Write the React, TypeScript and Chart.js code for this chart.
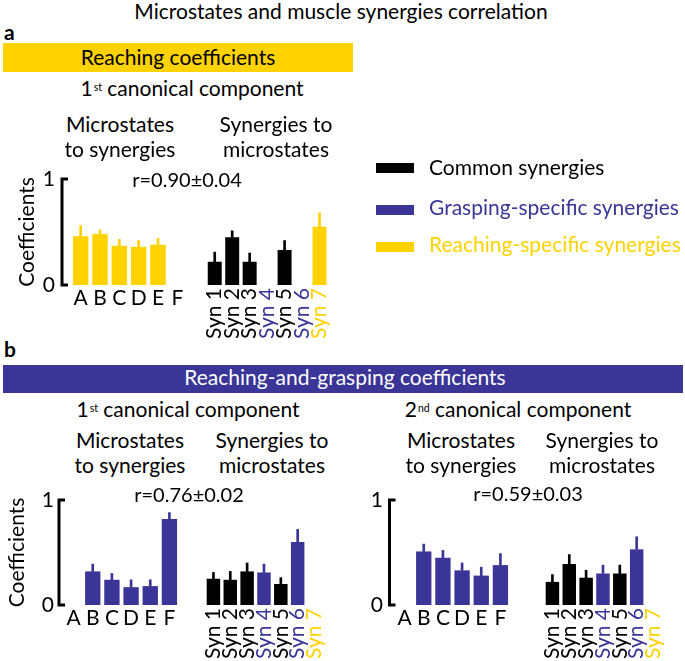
import React, { useEffect, useRef } from 'react';
import { Chart, registerables } from 'chart.js';

Chart.register(...registerables);

const FONT = 'Lato, "Open Sans", sans-serif';
const YELLOW = '#FFD200';
const BLUE = '#3A3597';
const BLACK = '#000000';
const FS = 21;

// ---- categories ----
const microstates = ['A', 'B', 'C', 'D', 'E', 'F'];
const synergies = ['Syn 1', 'Syn 2', 'Syn 3', 'Syn 4', 'Syn 5', 'Syn 6', 'Syn 7'];
const synergyGroup = ['common', 'common', 'common', 'grasping', 'common', 'grasping', 'reaching'];
const groupColor: Record<string, string> = { common: BLACK, grasping: BLUE, reaching: YELLOW };

// ---- panel a: reaching coefficients, 1st canonical component ----
const reachMicroValues = [0.46, 0.48, 0.37, 0.36, 0.38, null];
const reachMicroSd = [0.10, 0.04, 0.06, 0.06, 0.06, null];
const reachSynValues = [0.22, 0.45, 0.22, null, 0.33, null, 0.55];
const reachSynSd = [0.09, 0.06, 0.08, null, 0.09, null, 0.13];
const reachR = 'r=0.90±0.04';

// ---- panel b: reaching-and-grasping, 1st canonical component ----
const rg1MicroValues = [null, 0.32, 0.24, 0.17, 0.18, 0.82];
const rg1MicroSd = [null, 0.07, 0.06, 0.07, 0.06, 0.06];
const rg1SynValues = [0.25, 0.24, 0.32, 0.31, 0.20, 0.60, null];
const rg1SynSd = [0.06, 0.08, 0.08, 0.08, 0.06, 0.12, null];
const rg1R = 'r=0.76±0.02';

// ---- panel b: reaching-and-grasping, 2nd canonical component ----
const rg2MicroValues = [null, 0.51, 0.45, 0.33, 0.28, 0.38];
const rg2MicroSd = [null, 0.07, 0.07, 0.07, 0.08, 0.11];
const rg2SynValues = [0.22, 0.39, 0.26, 0.30, 0.30, 0.53, null];
const rg2SynSd = [0.07, 0.09, 0.07, 0.08, 0.08, 0.12, null];
const rg2R = 'r=0.59±0.03';

const yTicks = [0, 1];
const yTitleText = 'Coefficients';

const synColors = synergyGroup.map((g) => groupColor[g]);

const bracketPlugin = {
  id: 'bracket',
  afterDatasetsDraw(chart: any, _args: any, opts: any) {
    if (!opts || !opts.show) return;
    const y = chart.scales.y;
    const x = chart.chartArea.left - opts.gap;
    const top = y.getPixelForValue(yTicks[1]);
    const bottom = y.getPixelForValue(yTicks[0]);
    const ctx = chart.ctx;
    ctx.save();
    ctx.strokeStyle = BLACK;
    ctx.lineWidth = 3;
    ctx.beginPath();
    ctx.moveTo(x + 6, top);
    ctx.lineTo(x, top);
    ctx.lineTo(x, bottom);
    ctx.lineTo(x + 6, bottom);
    ctx.stroke();
    ctx.restore();
  },
};

type Spec = {
  left: number; w: number; areaTop: number; areaH: number;
  labels: string[]; values: (number | null)[]; sd: (number | null)[];
  barColors: string[]; labelColors: string[];
  axis: boolean; yWidth: number; padLeft: number; gap: number; tickPad: number;
  yTitle: boolean; titlePad: number; xHeight: number; xPad: number; rot: number;
};

function padTopOf(s: Spec) {
  return s.axis ? 13 + s.tickPad : 12;
}

function buildConfig(s: Spec): any {
  const errData = s.values.map((v, i) => (v == null ? null : [v, v + (s.sd[i] as number)]));
  return {
    type: 'bar',
    data: {
      labels: s.labels,
      datasets: [
        { data: s.values, backgroundColor: s.barColors, borderWidth: 0, grouped: false, categoryPercentage: 1, barPercentage: 0.8 },
        { data: errData, backgroundColor: s.barColors, borderWidth: 0, grouped: false, barThickness: 2 },
      ],
    },
    options: {
      animation: false,
      responsive: false,
      devicePixelRatio: 1,
      layout: { padding: { top: padTopOf(s), left: s.padLeft, right: 4, bottom: 0 } },
      plugins: {
        legend: { display: false },
        tooltip: { enabled: false },
        bracket: { show: s.axis, gap: s.gap },
      },
      scales: {
        x: {
          type: 'category',
          offset: true,
          grid: { display: false, drawTicks: false },
          border: { display: false },
          afterFit: (sc: any) => { sc.height = s.xHeight; },
          ticks: {
            autoSkip: false,
            minRotation: s.rot,
            maxRotation: s.rot,
            padding: s.xPad,
            color: (c: any) => s.labelColors[c.index],
            font: { family: FONT, size: FS },
          },
        },
        y: {
          min: yTicks[0],
          max: yTicks[1],
          display: s.axis,
          grid: { display: false, drawTicks: false },
          border: { display: false },
          afterFit: (sc: any) => { if (s.axis) sc.width = s.yWidth; },
          ticks: { stepSize: 1, padding: s.tickPad, color: BLACK, font: { family: FONT, size: FS } },
          title: {
            display: s.yTitle,
            text: yTitleText,
            color: BLACK,
            font: { family: FONT, size: FS },
            padding: { top: s.titlePad, bottom: 0 },
          },
        },
      },
    },
    plugins: [bracketPlugin],
  };
}

function BarChart({ spec }: { spec: Spec }) {
  const ref = useRef<HTMLCanvasElement>(null);
  const pt = padTopOf(spec);
  const h = pt + spec.areaH + spec.xHeight;
  useEffect(() => {
    const chart = new Chart(ref.current as HTMLCanvasElement, buildConfig(spec));
    return () => chart.destroy();
  }, []);
  return (
    <canvas
      ref={ref}
      width={spec.w}
      height={h}
      style={{ position: 'absolute', left: spec.left, top: spec.areaTop - pt, width: spec.w, height: h }}
    />
  );
}

function Txt({ x, base, size = FS, color = BLACK, bold = false, align = 'center', children }: any) {
  return (
    <div
      style={{
        position: 'absolute',
        left: x,
        top: base - 0.887 * size,
        fontSize: size,
        lineHeight: `${size}px`,
        whiteSpace: 'nowrap',
        color,
        fontWeight: bold ? 700 : 400,
        fontFamily: FONT,
        transform: align === 'center' ? 'translateX(-50%)' : undefined,
      }}
    >
      {children}
    </div>
  );
}

function Sup({ children }: any) {
  return <span style={{ fontSize: '0.5em', position: 'relative', top: '-0.55em', marginLeft: 1 }}>{children}</span>;
}

const microYellow = microstates.map(() => YELLOW);
const microBlue = microstates.map(() => BLUE);
const microLabelColors = microstates.map(() => BLACK);

const specs: Spec[] = [
  { left: 0, w: 191, areaTop: 179, areaH: 106, labels: microstates, values: reachMicroValues, sd: reachMicroSd,
    barColors: microYellow, labelColors: microLabelColors, axis: true, yWidth: 71, padLeft: 0, gap: 9, tickPad: 16,
    yTitle: true, titlePad: 15, xHeight: 32, xPad: 1, rot: 0 },
  { left: 196, w: 152, areaTop: 179, areaH: 106, labels: synergies, values: reachSynValues, sd: reachSynSd,
    barColors: synColors, labelColors: synColors, axis: false, yWidth: 0, padLeft: 10, gap: 0, tickPad: 0,
    yTitle: false, titlePad: 0, xHeight: 56, xPad: 3, rot: 90 },
  { left: 0, w: 183, areaTop: 500, areaH: 105, labels: microstates, values: rg1MicroValues, sd: rg1MicroSd,
    barColors: microBlue, labelColors: microLabelColors, axis: true, yWidth: 64, padLeft: 0, gap: 5, tickPad: 10,
    yTitle: true, titlePad: 5, xHeight: 32, xPad: 1, rot: 0 },
  { left: 195, w: 148, areaTop: 500, areaH: 105, labels: synergies, values: rg1SynValues, sd: rg1SynSd,
    barColors: synColors, labelColors: synColors, axis: false, yWidth: 0, padLeft: 10, gap: 0, tickPad: 0,
    yTitle: false, titlePad: 0, xHeight: 56, xPad: 3, rot: 90 },
  { left: 360, w: 154, areaTop: 500, areaH: 105, labels: microstates, values: rg2MicroValues, sd: rg2MicroSd,
    barColors: microBlue, labelColors: microLabelColors, axis: true, yWidth: 35, padLeft: 0, gap: 5.5, tickPad: 12,
    yTitle: false, titlePad: 0, xHeight: 32, xPad: 1, rot: 0 },
  { left: 534, w: 148, areaTop: 500, areaH: 105, labels: synergies, values: rg2SynValues, sd: rg2SynSd,
    barColors: synColors, labelColors: synColors, axis: false, yWidth: 0, padLeft: 10, gap: 0, tickPad: 0,
    yTitle: false, titlePad: 0, xHeight: 56, xPad: 3, rot: 90 },
];

const legendItems = [
  { text: 'Common synergies', color: BLACK, top: 163, base: 175 },
  { text: 'Grasping-specific synergies', color: BLUE, top: 205, base: 215 },
  { text: 'Reaching-specific synergies', color: YELLOW, top: 242, base: 252 },
];

export default function App() {
  return (
    <div style={{ position: 'fixed', left: 0, top: 0, width: 685, height: 661, background: '#fff', overflow: 'hidden', fontFamily: FONT }}>
      {specs.map((s, i) => <BarChart key={i} spec={s} />)}

      <Txt x={341} base={19}>Microstates and muscle synergies correlation</Txt>

      {/* panel a */}
      <Txt x={4} base={40} bold align="left">a</Txt>
      <div style={{ position: 'absolute', left: 3, top: 43, width: 350, height: 29, background: YELLOW }} />
      <Txt x={178} base={65}>Reaching coefficients</Txt>
      <Txt x={192} base={96}>1<Sup>st</Sup> canonical component</Txt>
      <Txt x={120} base={132}>Microstates</Txt>
      <Txt x={120} base={157}>to synergies</Txt>
      <Txt x={276} base={132}>Synergies to</Txt>
      <Txt x={276} base={157}>microstates</Txt>
      <Txt x={187} base={187} size={20}>{reachR}</Txt>

      {legendItems.map((it, i) => (
        <React.Fragment key={i}>
          <div style={{ position: 'absolute', left: 376, top: it.top, width: 38, height: 10, background: it.color }} />
          <Txt x={429} base={it.base} color={it.color} align="left">{it.text}</Txt>
        </React.Fragment>
      ))}

      {/* panel b */}
      <Txt x={4} base={357} bold align="left">b</Txt>
      <div style={{ position: 'absolute', left: 3, top: 365, width: 680, height: 28, background: BLUE }} />
      <Txt x={345} base={385} color="#fff">Reaching-and-grasping coefficients</Txt>
      <Txt x={188} base={417}>1<Sup>st</Sup> canonical component</Txt>
      <Txt x={518} base={417}>2<Sup>nd</Sup> canonical component</Txt>
      <Txt x={130} base={448}>Microstates</Txt>
      <Txt x={130} base={473}>to synergies</Txt>
      <Txt x={272} base={448}>Synergies to</Txt>
      <Txt x={272} base={473}>microstates</Txt>
      <Txt x={461} base={448}>Microstates</Txt>
      <Txt x={461} base={473}>to synergies</Txt>
      <Txt x={602} base={448}>Synergies to</Txt>
      <Txt x={602} base={473}>microstates</Txt>
      <Txt x={189} base={502} size={20}>{rg1R}</Txt>
      <Txt x={528} base={501} size={20}>{rg2R}</Txt>
    </div>
  );
}
